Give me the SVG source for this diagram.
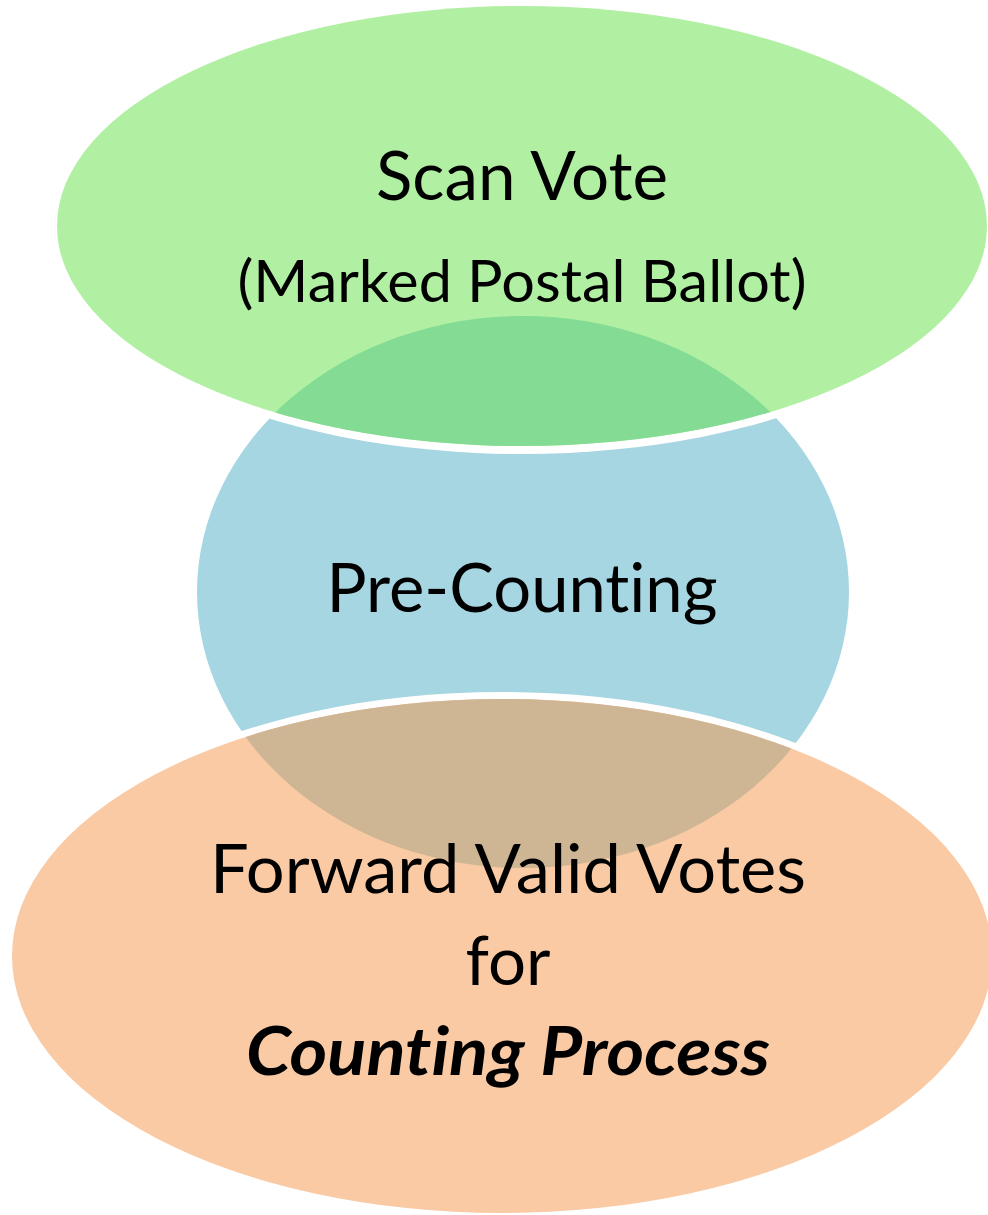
<svg xmlns="http://www.w3.org/2000/svg" width="988" height="1215" viewBox="0 0 988 1215">
  <style>
    .t { font-family: "Lato", "Liberation Sans", sans-serif; fill: #000; text-anchor: middle; font-variant-ligatures: none; font-feature-settings: "liga" 0, "clig" 0; }
    .big { font-size: 67px; }
    .sub { font-size: 59px; }
    .bi { font-size: 67px; font-weight: bold; font-style: italic; }
    .halo { fill: #ffffff; }
  </style>
  <defs>
    <clipPath id="clipGreen"><ellipse cx="522" cy="226" rx="465" ry="220"/></clipPath>
    <clipPath id="clipOrange"><ellipse cx="502" cy="956" rx="490" ry="257"/></clipPath>
  </defs>
  <rect width="988" height="1215" fill="#ffffff"/>
  <g id="node-precounting-shape">
    <ellipse cx="523" cy="592" rx="326" ry="276" fill="#a6d6e2"/>
  </g>
  <g id="node-scanvote">
    <ellipse class="halo" cx="522" cy="226" rx="473" ry="228"/>
    <ellipse cx="522" cy="226" rx="465" ry="220" fill="#b1f0a3"/>
    <ellipse cx="523" cy="592" rx="326" ry="276" fill="#83db94" clip-path="url(#clipGreen)"/>
    <text class="t big" x="522" y="200" textLength="292" lengthAdjust="spacingAndGlyphs">Scan Vote</text>
    <text class="t sub" x="522" y="302" textLength="569" lengthAdjust="spacingAndGlyphs">(Marked Postal Ballot)</text>
  </g>
  <g id="node-forward">
    <ellipse class="halo" cx="502" cy="956" rx="497" ry="264"/>
    <ellipse cx="502" cy="956" rx="490" ry="257" fill="#f9caa4"/>
    <ellipse cx="523" cy="592" rx="326" ry="276" fill="#ceb594" clip-path="url(#clipOrange)"/>
  </g>
  <g id="node-precounting-label">
    <text class="t big" x="522" y="612" textLength="391" lengthAdjust="spacingAndGlyphs">Pre-Counting</text>
  </g>
  <g id="node-forward-label">
    <text class="t big" x="508" y="893" textLength="596" lengthAdjust="spacingAndGlyphs">Forward Valid Votes</text>
    <text class="t big" x="508" y="985" textLength="85" lengthAdjust="spacingAndGlyphs">for</text>
    <text class="t bi" x="508" y="1075" textLength="524" lengthAdjust="spacingAndGlyphs">Counting Process</text>
  </g>
  <g id="connectors"></g>
</svg>
